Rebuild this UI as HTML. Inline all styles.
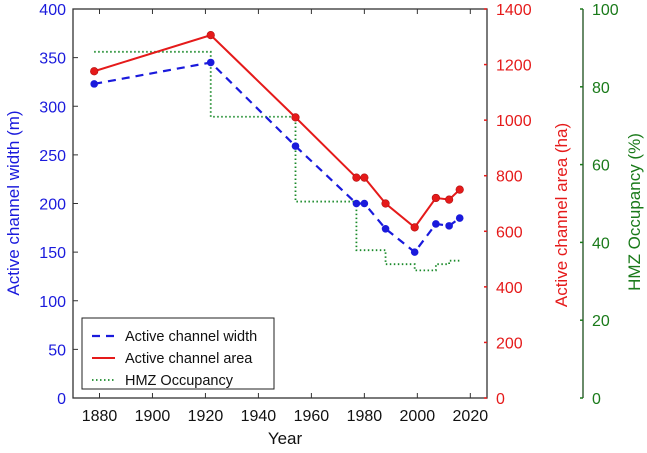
<!DOCTYPE html>
<html><head><meta charset="utf-8"><style>
body{margin:0;background:#fff}
svg text{font-family:"Liberation Sans",Arial,sans-serif}
</style></head><body>
<svg id="c" width="647" height="448" xmlns="http://www.w3.org/2000/svg"></svg>
<script>
const years=[1878,1922,1954,1977,1980,1988,1999,2007,2012,2016];
const widthVals=[323,345,259,200,200,174,150,179,177,185];
const areaVals=[1176,1306,1010,793,793,700,614,720,714,750];
const hmzYears=[1878,1922,1954,1977,1988,1999,2007,2012,2016];
const hmzVals=[89,72.3,50.5,38,34.4,32.8,34.4,35.3];
const xTicks=[1880,1900,1920,1940,1960,1980,2000,2020];
const wTicks=[0,50,100,150,200,250,300,350,400];
const aTicks=[0,200,400,600,800,1000,1200,1400];
const hTicks=[0,20,40,60,80,100];

const L=73,R=487,T=9,B=398,G=583;
const X=y=>L+(y-1870)/(2026.3-1870)*(R-L);
const YW=v=>B-v/400*(B-T);
const YA=v=>B-v/1400*(B-T);
const YH=v=>B-v/100*(B-T);
const s=document.getElementById('c');
const NS='http://www.w3.org/2000/svg';
function mk(t,a,p){const e=document.createElementNS(NS,t);for(const k in a)e.setAttribute(k,a[k]);(p||s).appendChild(e);return e;}

let e;
e=mk('rect',{x:L,y:T,width:R-L,height:B-T,fill:'none',stroke:'#333','stroke-width':1.3});



xTicks.forEach(v=>{
 mk('line',{x1:X(v),x2:X(v),y1:B,y2:B-5,stroke:'#333'});
 mk('line',{x1:X(v),x2:X(v),y1:T,y2:T+5,stroke:'#333'});
 e=mk('text',{x:X(v),y:B+23,'text-anchor':'middle','font-size':16,fill:'#111'});e.textContent=v;
 
 
});
wTicks.forEach(v=>{
 mk('line',{x1:L,x2:L+5,y1:YW(v),y2:YW(v),stroke:'#333'});
 e=mk('text',{x:L-7,y:YW(v)+6,'text-anchor':'end','font-size':16,fill:'#1a1adc'});e.textContent=v;
 
 
});
aTicks.forEach(v=>{
 mk('line',{x1:R-3,x2:R,y1:YA(v),y2:YA(v),stroke:'#e51a1a','stroke-width':1.5});
 e=mk('text',{x:R+9,y:YA(v)+6,'font-size':16,fill:'#e51a1a'});e.textContent=v;
 
 
});
mk('line',{x1:G,x2:G,y1:T,y2:B,stroke:'#1a4d1a','stroke-width':1.3});
hTicks.forEach(v=>{
 mk('line',{x1:G-3,x2:G,y1:YH(v),y2:YH(v),stroke:'#1a7a1a','stroke-width':1.5});
 e=mk('text',{x:G+9,y:YH(v)+6,'font-size':16,fill:'#1a7a1a'});e.textContent=v;
 
 
});

// HMZ steps
let d='M'+X(hmzYears[0])+','+YH(hmzVals[0]);
for(let i=0;i<hmzVals.length;i++){d+=' L'+X(hmzYears[i+1])+','+YH(hmzVals[i]);if(i+1<hmzVals.length)d+=' L'+X(hmzYears[i+1])+','+YH(hmzVals[i+1]);}
e=mk('path',{d:d,fill:'none',stroke:'#1a8a2a','stroke-width':1.8,'stroke-dasharray':'1.5 2.5'});



e=mk('polyline',{points:years.map((y,i)=>X(y)+','+YW(widthVals[i])).join(' '),fill:'none',stroke:'#1a1adc','stroke-width':2.2,'stroke-dasharray':'8 6'});


e=mk('polyline',{points:years.map((y,i)=>X(y)+','+YA(areaVals[i])).join(' '),fill:'none',stroke:'#e51a1a','stroke-width':2});


years.forEach((y,i)=>{
 e=mk('circle',{cx:X(y),cy:YW(widthVals[i]),r:3.8,fill:'#1a1adc'});
 
 
 e=mk('circle',{cx:X(y),cy:YA(areaVals[i]),r:3.8,fill:'#e51a1a',stroke:'#b01010','stroke-width':0.6});
 
 
});

// axis titles
e=mk('text',{x:0,y:0,transform:'translate(19,203) rotate(-90)','text-anchor':'middle','font-size':17,fill:'#1a1adc'});e.textContent='Active channel width (m)';


e=mk('text',{x:0,y:0,transform:'translate(567,215) rotate(-90)','text-anchor':'middle','font-size':17,fill:'#e51a1a'});e.textContent='Active channel area (ha)';


e=mk('text',{x:0,y:0,transform:'translate(640,212) rotate(-90)','text-anchor':'middle','font-size':17,fill:'#1a7a1a'});e.textContent='HMZ Occupancy (%)';


e=mk('text',{x:285,y:444,'text-anchor':'middle','font-size':17,fill:'#111'});e.textContent='Year';



// legend
const lg=mk('g',{});


mk('rect',{x:82,y:318,width:192,height:71,fill:'#fff',stroke:'#222','stroke-width':1},lg);
const items=[['Active channel width','#1a1adc','8 6',2.2],['Active channel area','#e51a1a','',2],['HMZ Occupancy','#1a8a2a','1.5 2.5',1.8]];
items.forEach((it,i)=>{
 const y=336+i*22;
 mk('line',{x1:92,x2:115,y1:y,y2:y,stroke:it[1],'stroke-width':it[3],'stroke-dasharray':it[2]},lg);
 const t=mk('text',{x:125,y:y+5,'font-size':14.5,fill:'#111'},lg);t.textContent=it[0];
 
 
});
</script>
</body></html>
